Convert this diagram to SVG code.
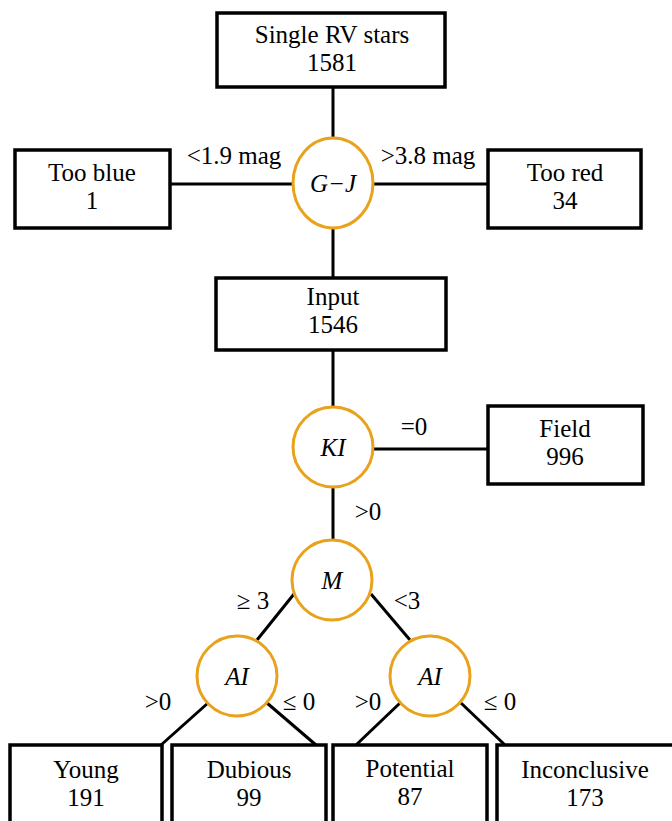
<svg xmlns="http://www.w3.org/2000/svg" width="672" height="821" viewBox="0 0 672 821">
<style>
.box{fill:#fff;stroke:#000;stroke-width:3.5}
.dec{fill:#fff;stroke:#E8A21B;stroke-width:3}
.ln{stroke:#000;stroke-width:3;fill:none}
text{font-family:'Liberation Serif','DejaVu Serif',serif;font-size:25px;fill:#000;text-anchor:middle}
.it{font-style:italic}
</style>
<rect width="672" height="821" fill="#fff"/>
<g id="connectors">
<line class="ln" x1="333" y1="87" x2="333" y2="139"/>
<line class="ln" x1="333" y1="228" x2="333" y2="278"/>
<line class="ln" x1="170" y1="184" x2="293" y2="184"/>
<line class="ln" x1="373" y1="184" x2="488" y2="184"/>
<line class="ln" x1="333" y1="350" x2="333" y2="407"/>
<line class="ln" x1="373" y1="449" x2="489" y2="449"/>
<line class="ln" x1="333" y1="487" x2="333" y2="541"/>
<line class="ln" x1="294" y1="594" x2="257" y2="640"/>
<line class="ln" x1="371" y1="594" x2="410" y2="640"/>
<line class="ln" x1="208" y1="703" x2="161" y2="745"/>
<line class="ln" x1="267" y1="703" x2="316" y2="745"/>
<line class="ln" x1="400" y1="703" x2="356" y2="745"/>
<line class="ln" x1="461" y1="703" x2="505" y2="745"/>
<text x="234" y="164">&lt;1.9 mag</text>
<text x="428" y="164">&gt;3.8 mag</text>
<text x="414" y="435">=0</text>
<text x="368" y="520">&gt;0</text>
<text x="253" y="609">≥ 3</text>
<text x="407" y="609">&lt;3</text>
<text x="158" y="710">&gt;0</text>
<text x="299" y="710">≤ 0</text>
<text x="368" y="710">&gt;0</text>
<text x="500" y="710">≤ 0</text>
</g>
<g id="single"><rect class="box" x="217" y="13" width="228" height="74"/><text x="332" y="43">Single RV stars</text><text x="332" y="71">1581</text></g>
<g id="gj"><ellipse class="dec" cx="333" cy="183" rx="40" ry="45"/><text class="it" x="333" y="192">G−J</text></g>
<g id="tooblue"><rect class="box" x="15" y="150" width="155" height="78"/><text x="92" y="181">Too blue</text><text x="92" y="209">1</text></g>
<g id="toored"><rect class="box" x="488" y="150" width="153" height="78"/><text x="565" y="181">Too red</text><text x="565" y="209">34</text></g>
<g id="input"><rect class="box" x="216" y="278" width="230" height="72"/><text x="333" y="305">Input</text><text x="333" y="333">1546</text></g>
<g id="ki"><circle class="dec" cx="333" cy="447" r="40"/><text class="it" x="333" y="456">KI</text></g>
<g id="field"><rect class="box" x="488" y="406" width="155" height="78"/><text x="565" y="437">Field</text><text x="565" y="465">996</text></g>
<g id="m"><circle class="dec" cx="332" cy="580" r="40"/><text class="it" x="332" y="589">M</text></g>
<g id="ai1"><ellipse class="dec" cx="237" cy="676" rx="40" ry="40"/><text class="it" x="237" y="685">AI</text></g>
<g id="ai2"><ellipse class="dec" cx="430" cy="676" rx="40" ry="40"/><text class="it" x="430" y="685">AI</text></g>
<g id="young"><rect class="box" x="10" y="745" width="152" height="90"/><text x="86" y="778">Young</text><text x="86" y="806">191</text></g>
<g id="dubious"><rect class="box" x="172" y="745" width="154" height="90"/><text x="249" y="778">Dubious</text><text x="249" y="806">99</text></g>
<g id="potential"><rect class="box" x="333" y="745" width="154" height="90"/><text x="410" y="777">Potential</text><text x="410" y="805">87</text></g>
<g id="inconclusive"><rect class="box" x="497" y="745" width="190" height="90"/><text x="585" y="778">Inconclusive</text><text x="585" y="806">173</text></g>
</svg>
